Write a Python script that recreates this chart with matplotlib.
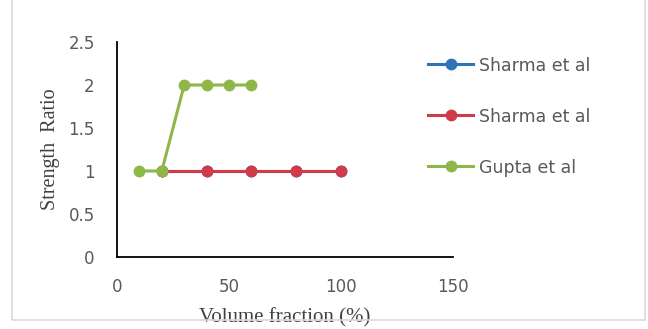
import matplotlib.pyplot as plt
from matplotlib.patches import Rectangle

# data
sharma1_x = [20, 40, 60, 80, 100]
sharma1_y = [1, 1, 1, 1, 1]
sharma2_x = [20, 40, 60, 80, 100]
sharma2_y = [1, 1, 1, 1, 1]
gupta_x = [10, 20, 30, 40, 50, 60]
gupta_y = [1, 1, 2, 2, 2, 2]
labels = ["Sharma et al", "Sharma et al", "Gupta et al"]
colors = ["#2E75B6", "#D03A4A", "#8DB849"]

fig = plt.figure(figsize=(6.48, 3.29), dpi=100)
# light frame around the chart area
fig.patches.append(Rectangle((12 / 648, 1 - 320 / 329), (645 - 12) / 648, 320 / 329 + 0.01,
                             transform=fig.transFigure, fill=False,
                             edgecolor="#d9d9d9", linewidth=1.2))

ax = fig.add_axes([117 / 648, 1 - 257 / 329, (453 - 117) / 648, (257 - 42) / 329])

series = [(sharma1_x, sharma1_y), (sharma2_x, sharma2_y), (gupta_x, gupta_y)]
for (x, y), lab, c in zip(series, labels, colors):
    ax.plot(x, y, color=c, linewidth=2.2, marker="o", markersize=7.5, label=lab)

ax.set_xlim(0, 150)
ax.set_ylim(0, 2.5)
ax.set_xticks([0, 50, 100, 150])
ax.set_yticks([0, 0.5, 1, 1.5, 2, 2.5])
ax.set_yticklabels(["0", "0.5", "1", "1.5", "2", "2.5"])

for side in ["top", "right"]:
    ax.spines[side].set_visible(False)
for side in ["left", "bottom"]:
    ax.spines[side].set_color("black")
    ax.spines[side].set_linewidth(1.3)

ax.tick_params(length=0, labelsize=12, labelcolor="#595959")
ax.tick_params(axis="y", pad=16)
ax.tick_params(axis="x", pad=15)

ax.set_xlabel("Volume fraction (%)", family="Liberation Serif", fontsize=15,
              color="#404040", labelpad=9)
ax.set_ylabel("Strength  Ratio", family="Liberation Serif", fontsize=14.5,
              color="#404040", labelpad=6)

ax.legend(loc="upper left", bbox_to_anchor=(0.88, 1.005), frameon=False,
          fontsize=12.5, labelcolor="#595959", labelspacing=1.9,
          handlelength=2.6, handletextpad=0.3)

fig.savefig("out.png", dpi=100)
